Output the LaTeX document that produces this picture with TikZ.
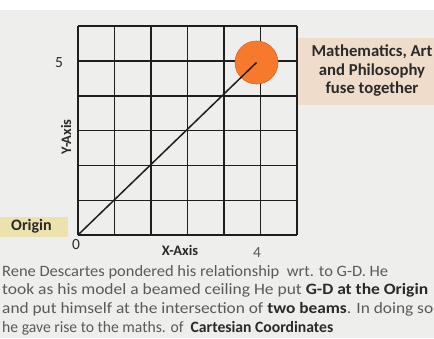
\documentclass[tikz,border=0pt]{standalone}
\usepackage{fontspec}
\setmainfont{Carlito}
\definecolor{bgc}{HTML}{EEEEEC}
\definecolor{gridc}{HTML}{1E1E1E}
\definecolor{orc}{HTML}{F77A2C}
\definecolor{orline}{HTML}{D9622A}
\definecolor{peach}{HTML}{EFDCCB}
\definecolor{yel}{HTML}{EDE2AE}
\definecolor{txtg}{HTML}{5A5A5A}
\definecolor{txtd}{HTML}{2A2A2A}
\tikzset{
  gridline/.style={draw=gridc, line width=1.8pt},
  lbl/.style={font=\fontsize{14}{16}\selectfont, text=txtd, inner sep=0pt},
  paraline/.style={font=\fontsize{15.8}{18}\selectfont, text=txtg, anchor=base west, inner sep=0pt},
}
\begin{document}
\begin{tikzpicture}[x=1pt,y=-1pt]
\useasboundingbox (0,0) rectangle (434,338);
\fill[white] (0,0) rectangle (434,338);
\fill[bgc] (0,10) rectangle (434,338);
% peach box
\fill[peach] (298,38) rectangle (434,105);
\node[font=\fontsize{16.7}{18.5}\selectfont\bfseries, text=txtd, align=center, inner sep=0pt] (mapf) at (372,71) {Mathematics, Art\\and Philosophy\\fuse together};
% origin box
\fill[yel] (0,217) rectangle (68,237);
\node[lbl, font=\fontsize{16}{18}\selectfont\bfseries, anchor=west] (orig) at (11,226.5) {Origin};
% grid
\foreach \x in {78,114.5,151,187.5,224,260.5,297} \draw[gridline] (\x,26) -- (\x,235);
\foreach \y in {26,61,96,130.5,165.5,200.5,235} \draw[gridline] (78,\y) -- (297,\y);
% circle
\node[circle, fill=orc, draw=orline, line width=0.6pt, minimum size=43pt, inner sep=0pt] (fuse) at (256.5,62.5) {};
\coordinate (O) at (79,234);
\draw[gridc, line width=1.5pt] (O) -- (fuse.center);
% labels
\node[lbl, font=\fontsize{15.5}{16}\selectfont] (five) at (59,63) {5};
\node[lbl, font=\fontsize{14.5}{15}\selectfont\bfseries, rotate=90] (yax) at (66,137) {Y-Axis};
\node[lbl, font=\fontsize{15.5}{16}\selectfont] (zero) at (76,245) {0};
\node[lbl, font=\fontsize{14.5}{15}\selectfont\bfseries] (xax) at (180,250) {X-Axis};
\node[lbl, font=\fontsize{15.5}{16}\selectfont, text=txtg] (four) at (257,253) {4};
% paragraph
\node[paraline] (l1) at (2,276) {\resizebox{386pt}{\height}{Rene Descartes pondered his relationship\ \ wrt. to G-D. He}};
\node[paraline] (l2) at (2,294.7) {\resizebox{426pt}{\height}{took as his model a beamed ceiling He put \textbf{\color{txtd}G-D at the Origin}}};
\node[paraline] (l3) at (2,313.4) {\resizebox{431pt}{\height}{and put himself at the intersection of \textbf{\color{txtd}two beams}. In doing so}};
\node[paraline] (l4) at (2,332) {\resizebox{331pt}{\height}{he gave rise to the maths. of\ \ \textbf{\color{txtd}Cartesian Coordinates}}};
\end{tikzpicture}
\end{document}
